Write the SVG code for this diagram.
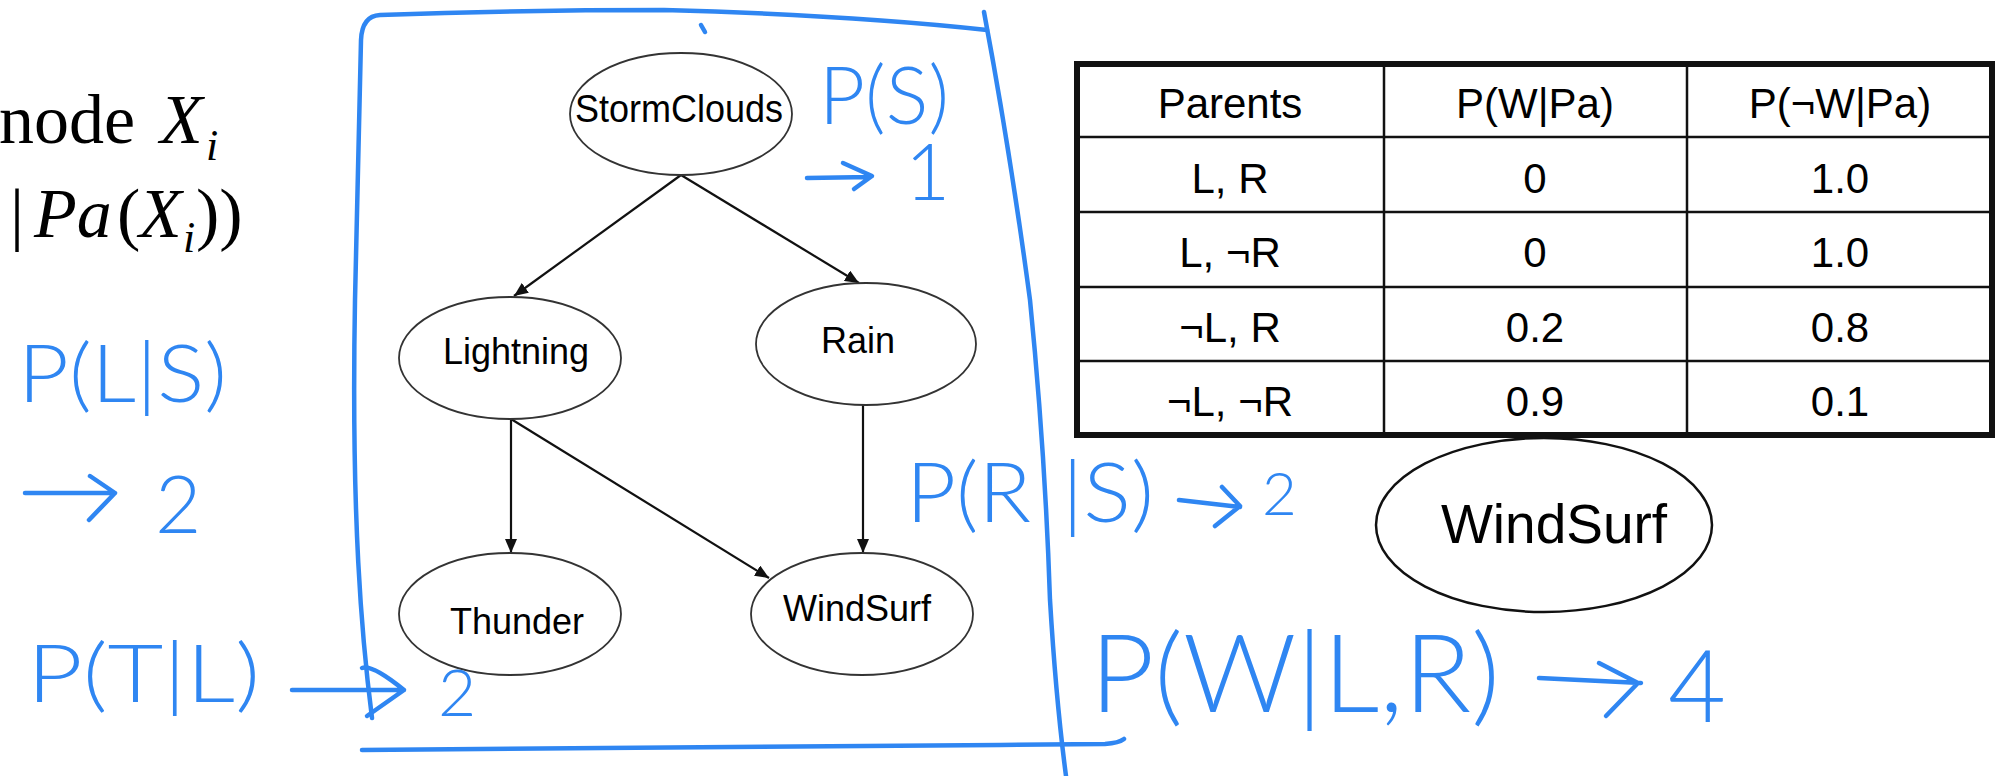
<svg xmlns="http://www.w3.org/2000/svg" width="2001" height="776" viewBox="0 0 2001 776">
  <defs>
    <style>
      .node ellipse { fill: #fff; stroke: #333; stroke-width: 1.8; }
      .lbl { font-family: "Liberation Sans", Arial, sans-serif; font-size: 36px; fill: #000; text-anchor: middle; }
      .edge { stroke: #111; stroke-width: 2.2; fill: none; marker-end: url(#ah); }
      .ink { fill: none; stroke: #2f86f2; stroke-width: 4.5; stroke-linecap: round; stroke-linejoin: round; }
      .hand { font-family: Lato, "Open Sans", "Liberation Sans", sans-serif; font-weight: 300; fill: #2f86f2; }
      .math { font-family: "Liberation Serif", "Times New Roman", serif; font-size: 70px; fill: #000; }
      .it { font-style: italic; }
      .sub { font-size: 44px; }
      .cell { font-family: "Liberation Sans", Arial, sans-serif; font-size: 42px; fill: #000; text-anchor: middle; }
      .grid { stroke: #111; stroke-width: 2.5; fill: none; }
    </style>
    <marker id="ah" viewBox="0 0 14 12" refX="14" refY="6" markerWidth="14" markerHeight="12" markerUnits="userSpaceOnUse" orient="auto">
      <path d="M0,0 L14,6 L0,12 z" fill="#111"/>
    </marker>
  </defs>

  <rect width="2001" height="776" fill="#fff"/>

  <!-- factorisation text, left margin -->
  <g id="formula">
    <text class="math" x="-1" y="143">node</text>
    <text class="math it" x="160" y="143">X</text>
    <text class="math it sub" x="206" y="160">i</text>
    <text class="math" x="10" y="237">|</text>
    <text class="math it" x="34" y="237">Pa</text>
    <text class="math" x="117" y="237">(</text>
    <text class="math it" x="139" y="237">X</text>
    <text class="math it sub" x="183" y="252">i</text>
    <text class="math" x="196" y="237">))</text>
  </g>

  <!-- hand-drawn frame around the network -->
  <g id="frame">
    <path class="ink" d="M372 718 C362 640 351 520 355 300 L361 40 Q362 16 380 15 Q520 10 664 10 Q850 15 987 30"/>
    <path class="ink" d="M984 12 Q1010 150 1030 300 Q1045 450 1050 600 Q1056 700 1066 776"/>
    <path class="ink" d="M362 750 Q700 747 1000 745 L1105 744 Q1119 743 1124 739"/>
    <path class="ink" d="M701 25 L705 32" stroke-width="3"/>
  </g>

  <!-- connectors -->
  <g id="connectors">
    <line class="edge" x1="681" y1="175" x2="514" y2="296"/>
    <line class="edge" x1="681" y1="175" x2="859" y2="283"/>
    <line class="edge" x1="511" y1="419" x2="511" y2="553"/>
    <line class="edge" x1="511" y1="419" x2="769" y2="578"/>
    <line class="edge" x1="863" y1="405" x2="863" y2="553"/>
  </g>

  <g id="node-stormclouds" class="node">
    <ellipse cx="681" cy="114" rx="111" ry="61"/>
    <text class="lbl" x="679" y="122" textLength="208" lengthAdjust="spacingAndGlyphs" style="font-size:38px">StormClouds</text>
  </g>
  <g id="node-lightning" class="node">
    <ellipse cx="510" cy="358" rx="111" ry="61"/>
    <text class="lbl" x="516" y="364">Lightning</text>
  </g>
  <g id="node-rain" class="node">
    <ellipse cx="866" cy="344" rx="110" ry="61"/>
    <text class="lbl" x="858" y="353">Rain</text>
  </g>
  <g id="node-thunder" class="node">
    <ellipse cx="510" cy="614" rx="111" ry="61"/>
    <text class="lbl" x="517" y="634">Thunder</text>
  </g>
  <g id="node-windsurf" class="node">
    <ellipse cx="862" cy="614" rx="111" ry="61"/>
    <text class="lbl" x="857" y="621">WindSurf</text>
  </g>

  <!-- conditional probability table for WindSurf -->
  <g id="cpt">
    <rect x="1077" y="64" width="915" height="371" fill="#fff" stroke="#111" stroke-width="6"/>
    <path class="grid" d="M1384 64 V435 M1687 64 V435 M1077 137 H1992 M1077 212 H1992 M1077 287 H1992 M1077 361 H1992"/>
    <text class="cell" x="1230" y="118">Parents</text>
    <text class="cell" x="1535" y="118">P(W|Pa)</text>
    <text class="cell" x="1840" y="118">P(¬W|Pa)</text>
    <text class="cell" x="1230" y="193">L, R</text>
    <text class="cell" x="1535" y="193">0</text>
    <text class="cell" x="1840" y="193">1.0</text>
    <text class="cell" x="1230" y="267">L, ¬R</text>
    <text class="cell" x="1535" y="267">0</text>
    <text class="cell" x="1840" y="267">1.0</text>
    <text class="cell" x="1230" y="342">¬L, R</text>
    <text class="cell" x="1535" y="342">0.2</text>
    <text class="cell" x="1840" y="342">0.8</text>
    <text class="cell" x="1230" y="416">¬L, ¬R</text>
    <text class="cell" x="1535" y="416">0.9</text>
    <text class="cell" x="1840" y="416">0.1</text>
  </g>

  <g id="node-windsurf-cpt">
    <ellipse cx="1544" cy="525" rx="168" ry="87" fill="#fff" stroke="#111" stroke-width="2.5"/>
    <text class="lbl" x="1554" y="543" style="font-size:55px">WindSurf</text>
  </g>

  <!-- handwritten parameter counts -->
  <g id="notes">
    <text class="hand" x="819" y="124" font-size="80" textLength="130" lengthAdjust="spacingAndGlyphs">P(S)</text>
    <path class="ink" d="M807 178 L870 177 M843 163 L872 176 L854 189"/>
    <text class="hand" x="905" y="200" font-size="78">1</text>

    <text class="hand" x="18" y="402" font-size="80" textLength="209" lengthAdjust="spacingAndGlyphs">P(L|S)</text>
    <path class="ink" d="M25 493 L115 493 M90 476 L115 493 L89 520"/>
    <text class="hand" x="155" y="533" font-size="80">2</text>

    <text class="hand" x="27" y="702" font-size="80" textLength="233" lengthAdjust="spacingAndGlyphs">P(T|L)</text>
    <path class="ink" d="M292 690 L404 690 M362 668 Q372 664 404 690 Q384 704 367 716"/>
    <text class="hand" x="438" y="716" font-size="66">2</text>

    <text class="hand" x="906" y="522" font-size="82" textLength="125" lengthAdjust="spacingAndGlyphs">P(R</text>
    <text class="hand" x="1062" y="522" font-size="82" textLength="92" lengthAdjust="spacingAndGlyphs">|S)</text>
    <path class="ink" d="M1179 500 L1240 507 M1222 487 L1240 506 L1215 526"/>
    <text class="hand" x="1262" y="515" font-size="60">2</text>

    <text class="hand" x="1090" y="712" font-size="108" textLength="410" lengthAdjust="spacingAndGlyphs">P(W|L,R)</text>
    <path class="ink" d="M1539 678 L1641 683 M1599 663 L1638 683 L1606 716"/>
    <text class="hand" x="1668" y="722" font-size="100">4</text>
  </g>
</svg>
